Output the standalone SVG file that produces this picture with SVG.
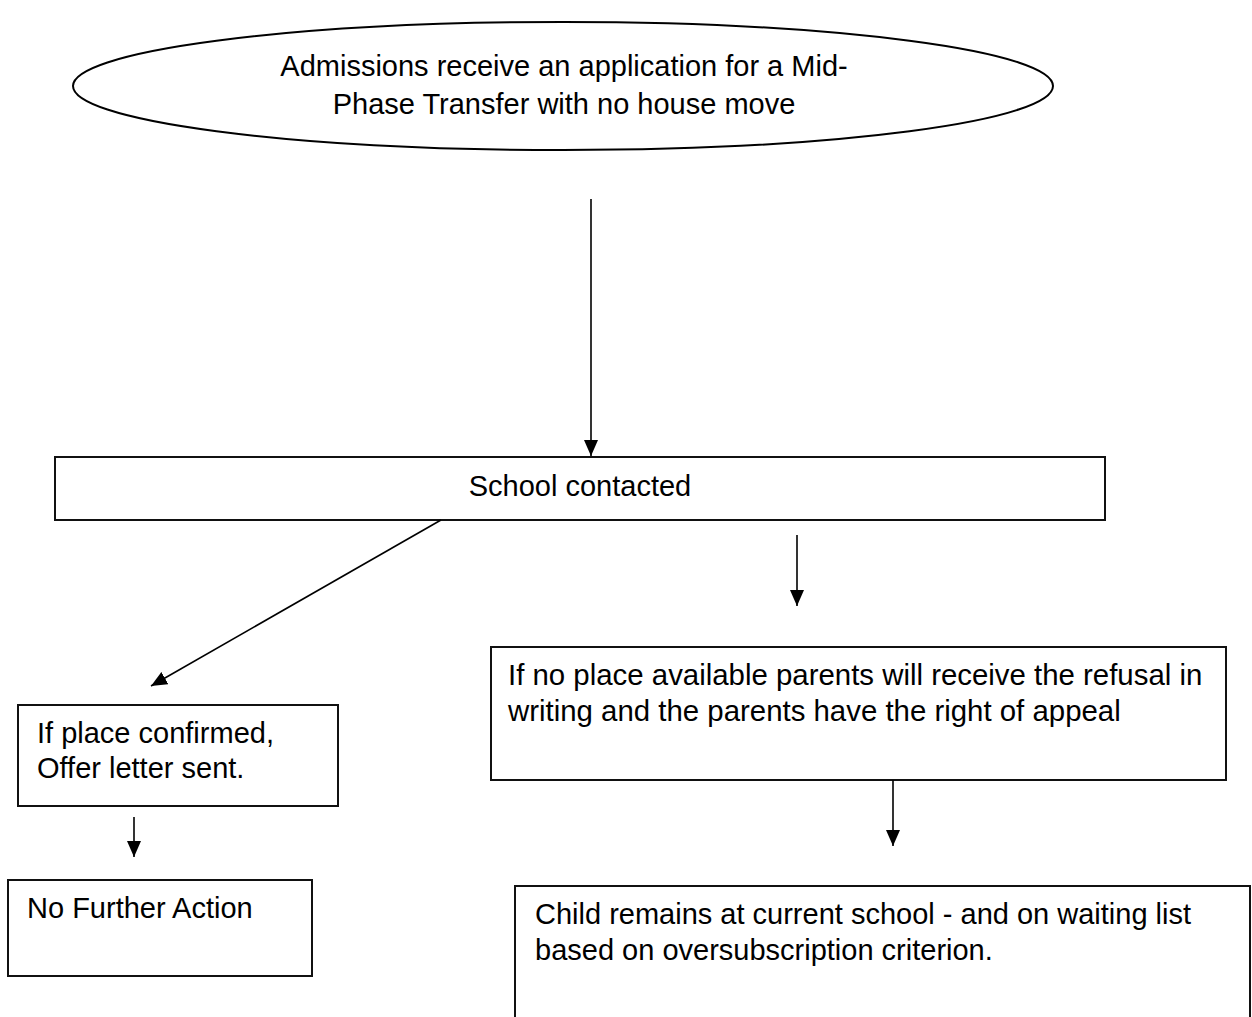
<svg xmlns="http://www.w3.org/2000/svg" width="1252" height="1017" viewBox="0 0 1252 1017">
<defs>
<marker id="ah" markerUnits="userSpaceOnUse" markerWidth="16" markerHeight="14" refX="16" refY="7" orient="auto">
<path d="M0,0 L16,7 L0,14 z" fill="#000"/>
</marker>
<style>
.box{fill:#fff;stroke:#111;stroke-width:2}
.t{font-family:"Liberation Sans",Arial,sans-serif;font-size:29px;fill:#000}
.c{stroke:#000;stroke-width:1.6;fill:none;marker-end:url(#ah)}
</style>
</defs>
<rect width="1252" height="1017" fill="#fff"/>
<g id="start">
<ellipse cx="563" cy="86" rx="490" ry="64" fill="#fff" stroke="#000" stroke-width="2"/>
<text class="t" x="564" y="76" text-anchor="middle">Admissions receive an application for a Mid-</text>
<text class="t" x="564" y="114" text-anchor="middle">Phase Transfer with no house move</text>
</g>
<g id="school">
<rect class="box" x="55" y="457" width="1050" height="63"/>
<text class="t" x="580" y="496" text-anchor="middle">School contacted</text>
</g>
<g id="confirmed">
<rect class="box" x="18" y="705" width="320" height="101"/>
<text class="t" x="37" y="743">If place confirmed,</text>
<text class="t" x="37" y="778">Offer letter sent.</text>
</g>
<g id="nfa">
<rect class="box" x="8" y="880" width="304" height="96"/>
<text class="t" x="27" y="918">No Further Action</text>
</g>
<g id="refusal">
<rect class="box" x="491" y="647" width="735" height="133"/>
<text class="t" x="508" y="685" style="font-size:29.4px">If no place available parents will receive the refusal in</text>
<text class="t" x="508" y="721" style="font-size:29.4px">writing and the parents have the right of appeal</text>
</g>
<g id="waiting">
<rect class="box" x="515" y="886" width="735" height="140"/>
<text class="t" x="535" y="924">Child remains at current school - and on waiting list</text>
<text class="t" x="535" y="960">based on oversubscription criterion.</text>
</g>
<g id="connectors">
<line class="c" x1="591" y1="199" x2="591" y2="456"/>
<line class="c" x1="441" y1="520" x2="151" y2="686"/>
<line class="c" x1="797" y1="535" x2="797" y2="606"/>
<line class="c" x1="893" y1="780" x2="893" y2="846"/>
<line class="c" x1="134" y1="817" x2="134" y2="857"/>
</g>
</svg>
